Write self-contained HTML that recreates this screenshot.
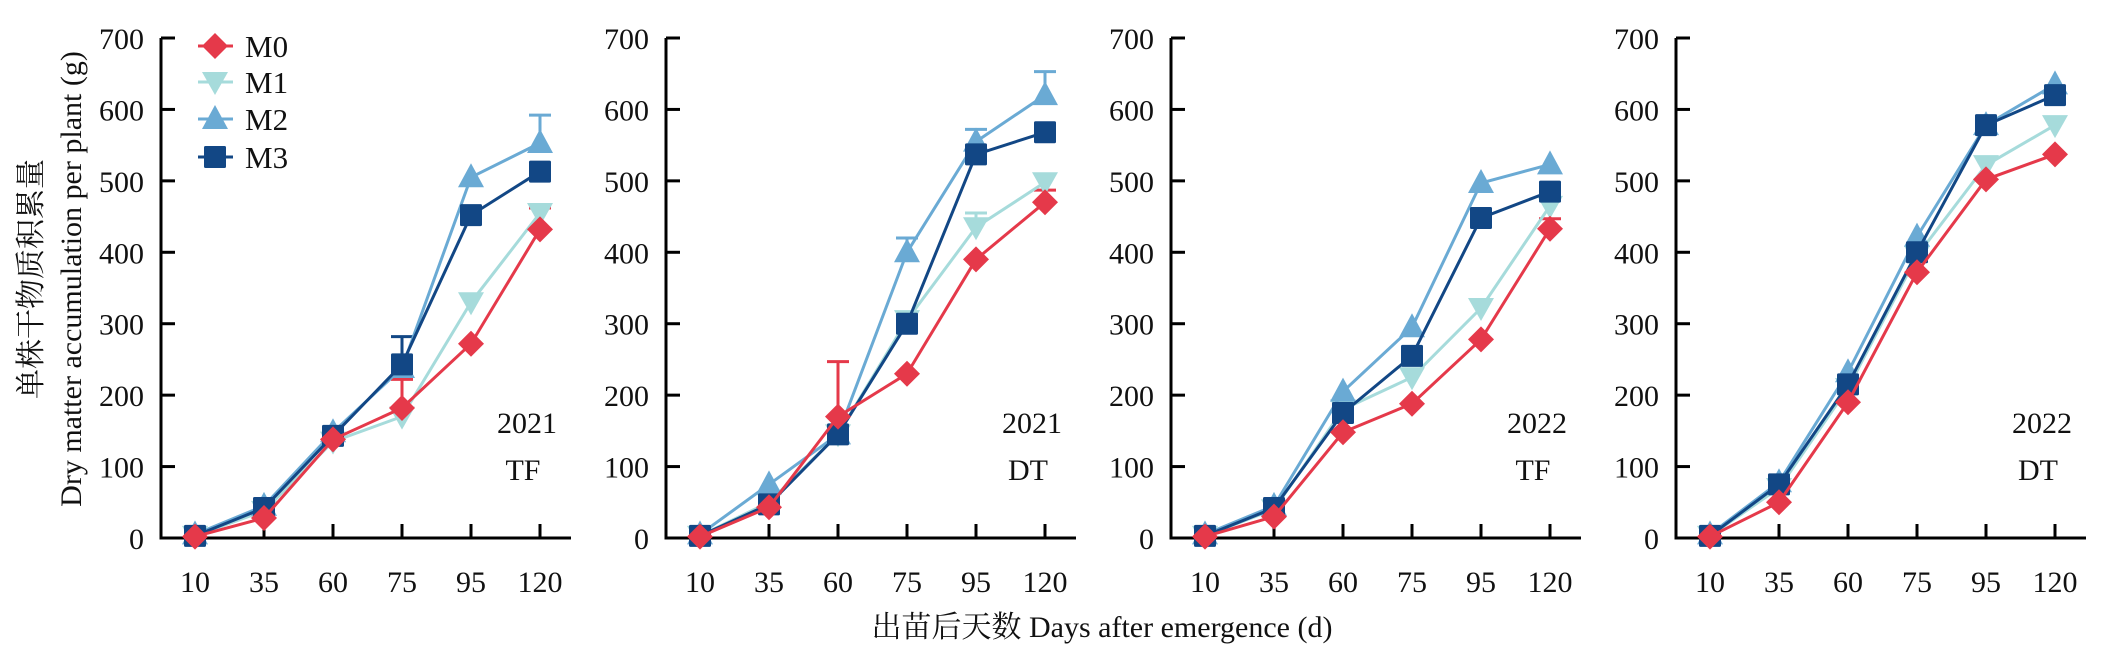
<!DOCTYPE html>
<html><head><meta charset="utf-8"><style>
html,body{margin:0;padding:0;background:#fff;}
svg{display:block;}
text{font-family:"Liberation Serif","Noto Serif CJK SC","Noto Sans CJK SC",serif;fill:#111;}
</style></head><body>
<svg id="s" width="2103" height="666" viewBox="0 0 2103 666" xmlns="http://www.w3.org/2000/svg"></svg>
<script>
const S=document.getElementById('s');
let h='';
const cols={M0:'#e5394a',M1:'#a6dbdb',M2:'#6aaad4',M3:'#124785'};
const y0=538, yk=500/700;
const Y=v=>y0-v*yk;
const panels=[
 {ax:161,yr:'2021',lb:'TF',d:{
  M1:[3,38,135,170,330,455],M2:[5,45,148,238,505,553],M3:[3,42,143,243,452,513],M0:[2,28,138,182,272,432]},
  e:[['M0',3,222],['M3',3,282],['M2',5,592],['M0',5,462]]},
 {ax:666,yr:'2021',lb:'DT',d:{
  M1:[3,50,145,305,435,498],M2:[5,75,145,400,555,620],M3:[3,47,145,300,537,568],M0:[2,43,170,230,390,470]},
  e:[['M0',2,247],['M0',5,487],['M1',4,455],['M2',3,420],['M2',4,572],['M2',5,653]]},
 {ax:1171,yr:'2022',lb:'TF',d:{
  M1:[3,40,180,225,322,465],M2:[5,45,205,295,497,523],M3:[3,42,175,255,448,485],M0:[2,30,148,188,278,433]},
  e:[['M0',5,447]]},
 {ax:1676,yr:'2022',lb:'DT',d:{
  M1:[3,70,210,395,522,578],M2:[5,78,232,422,578,635],M3:[3,75,215,400,578,620],M0:[2,50,190,372,502,537]},
  e:[]}
];
const cats=['10','35','60','75','95','120'];
function marker(k,x,y){
 const c=cols[k];
 if(k==='M0')return `<polygon points="${x},${y-13} ${x+13},${y} ${x},${y+13} ${x-13},${y}" fill="${c}"/>`;
 if(k==='M1')return `<polygon points="${x-13},${y-10} ${x+13},${y-10} ${x},${y+13}" fill="${c}"/>`;
 if(k==='M2')return `<polygon points="${x-13},${y+10} ${x+13},${y+10} ${x},${y-14}" fill="${c}"/>`;
 return `<rect x="${x-11}" y="${y-11}" width="22" height="22" rx="1.5" fill="${c}"/>`;
}
panels.forEach(p=>{
 const ax=p.ax, X=i=>ax+34+i*69;
 h+=`<line x1="${ax}" y1="${Y(700)}" x2="${ax}" y2="${y0+1.5}" stroke="#000" stroke-width="3"/>`;
 h+=`<line x1="${ax-1.5}" y1="${y0}" x2="${ax+410}" y2="${y0}" stroke="#000" stroke-width="3"/>`;
 for(let v=0;v<=700;v+=100){
  h+=`<line x1="${ax}" y1="${Y(v)}" x2="${ax+14}" y2="${Y(v)}" stroke="#000" stroke-width="3"/>`;
  h+=`<text x="${ax-17}" y="${Y(v)+11}" font-size="30" text-anchor="end">${v}</text>`;
 }
 cats.forEach((c,i)=>{
  h+=`<line x1="${X(i)}" y1="${y0}" x2="${X(i)}" y2="${y0-14}" stroke="#000" stroke-width="3"/>`;
  h+=`<text x="${X(i)}" y="${y0+54}" font-size="30" text-anchor="middle">${c}</text>`;
 });
 p.e.forEach(([k,i,top])=>{
  const v=p.d[k][i];
  h+=`<line x1="${X(i)}" y1="${Y(v)}" x2="${X(i)}" y2="${Y(top)}" stroke="${cols[k]}" stroke-width="3"/>`;
  h+=`<line x1="${X(i)-11}" y1="${Y(top)}" x2="${X(i)+11}" y2="${Y(top)}" stroke="${cols[k]}" stroke-width="3"/>`;
 });
 ['M1','M2','M3','M0'].forEach(k=>{
  const pts=p.d[k].map((v,i)=>X(i)+','+Y(v)).join(' ');
  h+=`<polyline points="${pts}" fill="none" stroke="${cols[k]}" stroke-width="3"/>`;
  p.d[k].forEach((v,i)=>h+=marker(k,X(i),Y(v)));
 });
 h+=`<text x="${ax+366}" y="433" font-size="30" text-anchor="middle">${p.yr}</text>`;
 h+=`<text x="${ax+362}" y="480" font-size="30" text-anchor="middle">${p.lb}</text>`;
});
[['M0',46],['M1',82],['M2',119],['M3',157]].forEach(([k,y])=>{
 h+=`<line x1="198" y1="${y}" x2="233" y2="${y}" stroke="${cols[k]}" stroke-width="3"/>`;
 h+=marker(k,215,y);
 h+=`<text x="245" y="${y+11}" font-size="31">${k}</text>`;
});
h+=`<text transform="translate(41,279) rotate(-90)" font-size="30" text-anchor="middle">单株干物质积累量</text>`;
h+=`<text transform="translate(81,279) rotate(-90)" font-size="30" text-anchor="middle">Dry matter accumulation per plant (g)</text>`;
h+=`<text x="1102" y="637" font-size="30" text-anchor="middle">出苗后天数 Days after emergence (d)</text>`;
S.innerHTML=h;
</script>
</body></html>
